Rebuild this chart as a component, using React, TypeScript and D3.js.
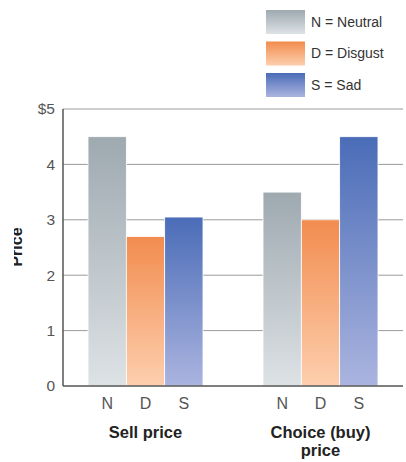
import React from "react";
import * as d3 from "d3";

const groups = ["Sell price", "Choice (buy) price"];
const emotions = ["N", "D", "S"];
const emotionNames = ["Neutral", "Disgust", "Sad"];
const sellValues = [4.5, 2.7, 3.05];
const choiceValues = [3.5, 3.0, 4.5];
const yTicks = [0, 1, 2, 3, 4, 5];

const colors = [
  { top: "#9ea9b0", bottom: "#dde2e5" },
  { top: "#f28c4f", bottom: "#fdcfae" },
  { top: "#4a6cb7", bottom: "#abb4df" },
];

const W = 406;
const H = 462;
const margin = { top: 109, right: 3, bottom: 76, left: 63 };
const font = "'Liberation Sans', Arial, sans-serif";

export default function App() {
  const values = [sellValues, choiceValues];

  const x0 = d3
    .scaleBand()
    .domain(groups)
    .range([margin.left, W - margin.right])
    .paddingInner(0.343)
    .paddingOuter(0.143);

  const x1 = d3.scaleBand().domain(emotions).range([0, x0.bandwidth()]);

  const y = d3
    .scaleLinear()
    .domain([0, 5])
    .range([H - margin.bottom, margin.top]);

  const groupLabelLines = [["Sell price"], ["Choice (buy)", "price"]];

  return (
    <svg
      width={W}
      height={H}
      style={{ position: "absolute", left: 0, top: 0, background: "#fff" }}
      fontFamily={font}
    >
      <defs>
        {colors.map((c, i) => (
          <linearGradient key={i} id={`grad${i}`} x1="0" y1="0" x2="0" y2="1">
            <stop offset="0%" stopColor={c.top} />
            <stop offset="100%" stopColor={c.bottom} />
          </linearGradient>
        ))}
        <clipPath id="ylabclip">
          <rect x={14} y={0} width={W} height={H} />
        </clipPath>
      </defs>

      {/* grid */}
      {yTicks.slice(1).map((t) => (
        <line
          key={t}
          x1={margin.left}
          x2={W - margin.right}
          y1={y(t)}
          y2={y(t)}
          stroke="#9a9a9a"
          strokeWidth={1}
        />
      ))}

      {/* bars */}
      {groups.map((g, gi) =>
        emotions.map((e, ei) => (
          <rect
            key={g + e}
            x={x0(g)! + x1(e)!}
            y={y(values[gi][ei])}
            width={x1.bandwidth()}
            height={y(0) - y(values[gi][ei])}
            fill={`url(#grad${ei})`}
            stroke="#fff"
            strokeWidth={0.8}
          />
        ))
      )}

      {/* axes */}
      <line
        x1={margin.left}
        x2={margin.left}
        y1={y(5)}
        y2={y(0)}
        stroke="#555"
        strokeWidth={1.5}
      />
      <line
        x1={margin.left}
        x2={W - margin.right}
        y1={y(0)}
        y2={y(0)}
        stroke="#555"
        strokeWidth={1.5}
      />

      {yTicks.map((t) => (
        <text
          key={t}
          x={55}
          y={y(t)}
          dy="0.35em"
          textAnchor="end"
          fontSize={15.5}
          fill="#555"
        >
          {t === 5 ? "$5" : t}
        </text>
      ))}

      <g clipPath="url(#ylabclip)">
        <text
          transform={`translate(22,247) rotate(-90)`}
          textAnchor="middle"
          fontSize={16}
          fontWeight="bold"
          fill="#222"
        >
          Price
        </text>
      </g>

      {/* x labels */}
      {groups.map((g, gi) => (
        <g key={g}>
          {emotions.map((e) => (
            <text
              key={e}
              x={x0(g)! + x1(e)! + x1.bandwidth() / 2}
              y={409}
              textAnchor="middle"
              fontSize={16}
              fill="#555"
            >
              {e}
            </text>
          ))}
          {groupLabelLines[gi].map((line, li) => (
            <text
              key={li}
              x={x0(g)! + x0.bandwidth() / 2}
              y={438 + li * 18}
              textAnchor="middle"
              fontSize={16.5}
              fontWeight="bold"
              fill="#222"
            >
              {line}
            </text>
          ))}
        </g>
      ))}

      {/* legend */}
      {emotions.map((e, i) => (
        <g key={e} transform={`translate(266,${10 + i * 31.5})`}>
          <rect width={39} height={24} fill={`url(#grad${i})`} />
          <text x={45} y={12} dy="0.35em" fontSize={14} fill="#333">
            {`${e} = ${emotionNames[i]}`}
          </text>
        </g>
      ))}
    </svg>
  );
}
